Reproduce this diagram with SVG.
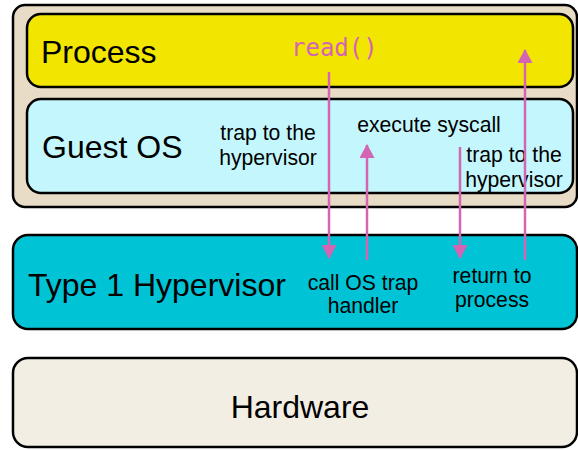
<svg xmlns="http://www.w3.org/2000/svg" width="578" height="450" viewBox="0 0 578 450">
  <style>
    .box { stroke: #000; stroke-width: 2.5; }
    .big { font-family: "Liberation Sans", Arial, sans-serif; font-size: 32px; fill: #000; }
    .small { font-family: "Liberation Sans", Arial, sans-serif; font-size: 21.2px; fill: #000; text-anchor: middle; }
    .code { font-family: "DejaVu Sans Mono", monospace; font-size: 24px; fill: #d465b2; }
    .flow { stroke: #d465b2; stroke-width: 2.5; fill: none; marker-end: url(#head); }
  </style>
  <defs>
    <marker id="head" viewBox="0 0 14 15" refX="13" refY="7.5" markerWidth="14" markerHeight="15" markerUnits="userSpaceOnUse" orient="auto">
      <path d="M0,0 L14,7.5 L0,15 Z" fill="#d465b2"/>
    </marker>
  </defs>

  <!-- virtual machine: process and guest OS -->
  <g id="vm">
    <rect class="box" x="13" y="5" width="564" height="202" rx="12" fill="#e8dcc6"/>
  </g>
  <g id="process">
    <rect class="box" x="27" y="14" width="546" height="73" rx="14" fill="#f2e600"/>
    <text class="big" x="41" y="63">Process</text>
    <text class="code" x="291" y="56">read()</text>
  </g>
  <g id="guest-os">
    <rect class="box" x="27" y="99" width="546" height="94" rx="14" fill="#c4f7fd"/>
    <text class="big" x="42" y="158">Guest OS</text>
    <text class="small" x="268" y="140">trap to the</text>
    <text class="small" x="268" y="165">hypervisor</text>
    <text class="small" x="429" y="132">execute syscall</text>
    <text class="small" x="514" y="162">trap to the</text>
    <text class="small" x="514" y="187">hypervisor</text>
  </g>
  <g id="hypervisor">
    <rect class="box" x="13" y="235" width="564" height="94" rx="15" fill="#00c4d6"/>
    <text class="big" x="28" y="296">Type 1 Hypervisor</text>
    <text class="small" x="363" y="290">call OS trap</text>
    <text class="small" x="363" y="313">handler</text>
    <text class="small" x="492" y="283">return to</text>
    <text class="small" x="492" y="307">process</text>
  </g>
  <g id="hardware">
    <rect class="box" x="13" y="358" width="564" height="89" rx="15" fill="#f2eee4"/>
    <text class="big" x="300" y="418" text-anchor="middle">Hardware</text>
  </g>

  <!-- control flow of the system call -->
  <g id="connectors">
    <line class="flow" x1="329" y1="72" x2="329" y2="258"/>
    <line class="flow" x1="367" y1="260" x2="367" y2="145"/>
    <line class="flow" x1="460" y1="147" x2="460" y2="258"/>
    <line class="flow" x1="525" y1="260" x2="525" y2="50"/>
  </g>
</svg>
